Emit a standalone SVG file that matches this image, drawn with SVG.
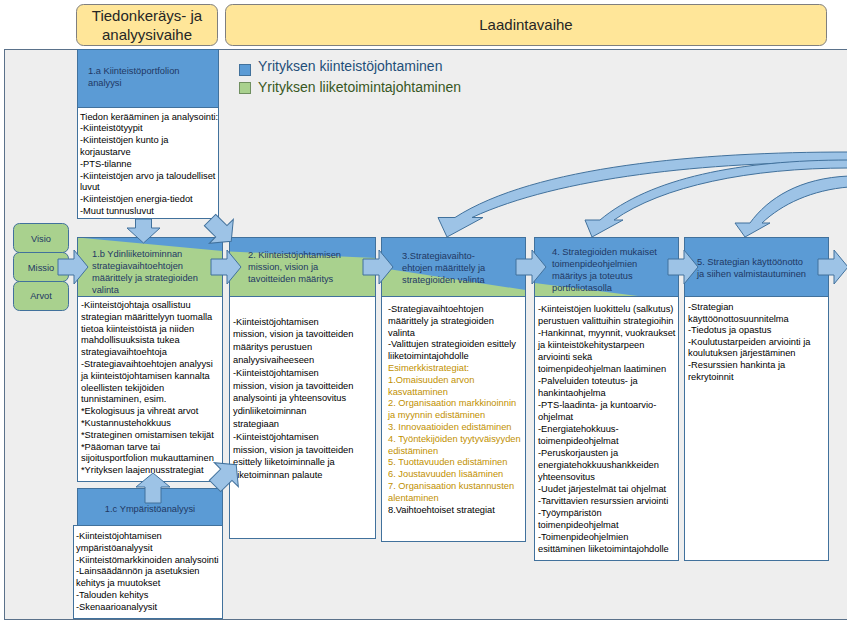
<svg xmlns="http://www.w3.org/2000/svg" xmlns:xlink="http://www.w3.org/1999/xlink" width="847" height="625" viewBox="0 0 847 625">
<style>
text{font-family:"Liberation Sans",Arial,sans-serif}
.t{font-size:9.3px;fill:#000}
.h{font-size:9.3px;fill:#1f3864}
.gold{fill:#bf9000}
.blue{fill:#5b9bd5}
.green{fill:#a9d18e}
.ol{fill:none;stroke:#41719c;stroke-width:1}
.box{fill:#fff;stroke:#41719c;stroke-width:1}
.arr{fill:#9dc3e6;stroke:#41719c;stroke-width:1}
.phase{fill:#ffe699;stroke:#7f7f7f;stroke-width:1}
.pt{font-size:15px;fill:#262626}
.vm{fill:#a9d18e;stroke:#41719c;stroke-width:1}
</style>
<defs>
<path id="ra" d="M0,-8 H16 V-17 L30,0 L16,17 V8 H0 Z"/>
</defs>
<rect x="4.5" y="49.5" width="850" height="570" fill="#eeeeee" stroke="#5a718a" stroke-width="1"/>
<g id="phase-collect">
<rect class="phase" x="76.5" y="4.5" width="141" height="41" rx="7"/>
<text class="pt" x="147" y="20.5" text-anchor="middle">Tiedonkeräys- ja</text>
<text class="pt" x="147" y="39.5" text-anchor="middle">analyysivaihe</text>
</g>
<g id="phase-draft">
<rect class="phase" x="225.5" y="4.5" width="601" height="41" rx="7"/>
<text class="pt" x="526" y="30" text-anchor="middle">Laadintavaihe</text>
</g>
<g id="legend">
<rect x="239.5" y="64.5" width="11" height="11" fill="#5b9bd5" stroke="#41719c"/>
<text x="258" y="71" font-size="14" fill="#1f4e79">Yrityksen kiinteistöjohtaminen</text>
<rect x="239.5" y="82.5" width="11" height="11" fill="#a9d18e" stroke="#6f8f5f"/>
<text x="258" y="92" font-size="14" fill="#385723">Yrityksen liiketoimintajohtaminen</text>
</g>
<g id="node-visio"><rect class="vm" x="13.5" y="223.5" width="55" height="29" rx="6"/><text class="h" x="41" y="241.5" text-anchor="middle">Visio</text></g>
<g id="node-missio"><rect class="vm" x="13.5" y="252.5" width="55" height="29" rx="6"/><text class="h" x="41" y="270.5" text-anchor="middle">Missio</text></g>
<g id="node-arvot"><rect class="vm" x="13.5" y="281.5" width="55" height="29" rx="6"/><text class="h" x="41" y="299" text-anchor="middle">Arvot</text></g>
<g id="node-1a">
<rect class="blue" x="77.5" y="49.5" width="141" height="58" stroke="#41719c"/>
<text class="h" x="88" y="74">1.a Kiinteistöportfolion<tspan x="88" dy="11.8">analyysi</tspan></text>
<rect class="box" x="77.5" y="107.5" width="141" height="111"/>
<text class="t" x="80" y="119.5">Tiedon kerääminen ja analysointi:<tspan x="80" dy="11.8">-Kiinteistötyypit</tspan><tspan x="80" dy="11.8">-Kiinteistöjen kunto ja</tspan><tspan x="80" dy="11.8">korjaustarve</tspan><tspan x="80" dy="11.8">-PTS-tilanne</tspan><tspan x="80" dy="11.8">-Kiinteistöjen arvo ja taloudelliset</tspan><tspan x="80" dy="11.8">luvut</tspan><tspan x="80" dy="11.8">-Kiinteistöjen energia-tiedot</tspan><tspan x="80" dy="11.8">-Muut tunnusluvut</tspan></text>
</g>
<g id="node-1b">
<rect class="green" x="77.5" y="237.5" width="145" height="59"/>
<polygon class="blue" points="77.5,237.5 222.5,237.5 222.5,251"/>
<rect class="ol" x="77.5" y="237.5" width="145" height="59"/>
<text class="h" x="92" y="257">1.b Ydinliiketoiminnan<tspan x="92" dy="12">strategiavaihtoehtojen</tspan><tspan x="92" dy="12">määrittely ja strategioiden</tspan><tspan x="92" dy="12">valinta</tspan></text>
<rect class="box" x="77.5" y="296.5" width="145" height="185"/>
<text class="t" x="81" y="308">-Kiinteistöjohtaja osallistuu<tspan x="81" dy="11.8">strategian määrittelyyn tuomalla</tspan><tspan x="81" dy="11.8">tietoa kiinteistöistä ja niiden</tspan><tspan x="81" dy="11.8">mahdollisuuksista tukea</tspan><tspan x="81" dy="11.8">strategiavaihtoehtoja</tspan><tspan x="81" dy="11.8">-Strategiavaihtoehtojen analyysi</tspan><tspan x="81" dy="11.8">ja kiinteistöjohtamisen kannalta</tspan><tspan x="81" dy="11.8">oleellisten tekijöiden</tspan><tspan x="81" dy="11.8">tunnistaminen, esim.</tspan><tspan x="81" dy="11.8">*Ekologisuus ja vihreät arvot</tspan><tspan x="81" dy="11.8">*Kustannustehokkuus</tspan><tspan x="81" dy="11.8">*Strateginen omistamisen tekijät</tspan><tspan x="81" dy="11.8">*Pääoman tarve tai</tspan><tspan x="81" dy="11.8">sijoitusportfolion mukauttaminen</tspan><tspan x="81" dy="11.8">*Yrityksen laajennusstrategiat</tspan></text>
</g>
<g id="node-1c">
<rect class="blue" x="77.5" y="488.5" width="145" height="37" stroke="#41719c"/>
<text class="h" x="150" y="512" text-anchor="middle">1.c Ympäristöanalyysi</text>
<rect class="box" x="73.5" y="525.5" width="149" height="93"/>
<text class="t" x="76" y="539">-Kiinteistöjohtamisen<tspan x="76" dy="11.8">ympäristöanalyysit</tspan><tspan x="76" dy="11.8">-Kiinteistömarkkinoiden analysointi</tspan><tspan x="76" dy="11.8">-Lainsäädännön ja asetuksien</tspan><tspan x="76" dy="11.8">kehitys ja muutokset</tspan><tspan x="76" dy="11.8">-Talouden kehitys</tspan><tspan x="76" dy="11.8">-Skenaarioanalyysit</tspan></text>
</g>
<g id="node-2">
<rect class="blue" x="229.5" y="237.5" width="146" height="59"/>
<polygon class="green" points="229.5,251.5 375.5,258 375.5,296.5 229.5,296.5"/>
<rect class="ol" x="229.5" y="237.5" width="146" height="59"/>
<text class="h" x="248" y="258">2. Kiinteistöjohtamisen<tspan x="248" dy="12">mission, vision ja</tspan><tspan x="248" dy="12">tavoitteiden määritys</tspan></text>
<rect class="box" x="229.5" y="296.5" width="146" height="242"/>
<text class="t" x="233" y="324.5">-Kiinteistöjohtamisen<tspan x="233" dy="12.8">mission, vision ja tavoitteiden</tspan><tspan x="233" dy="12.8">määritys perustuen</tspan><tspan x="233" dy="12.8">analyysivaiheeseen</tspan><tspan x="233" dy="12.8">-Kiinteistöjohtamisen</tspan><tspan x="233" dy="12.8">mission, vision ja tavoitteiden</tspan><tspan x="233" dy="12.8">analysointi ja yhteensovitus</tspan><tspan x="233" dy="12.8">ydinliiketoiminnan</tspan><tspan x="233" dy="12.8">strategiaan</tspan><tspan x="233" dy="12.8">-Kiinteistöjohtamisen</tspan><tspan x="233" dy="12.8">mission, vision ja tavoitteiden</tspan><tspan x="233" dy="12.8">esittely liiketoiminnalle ja</tspan><tspan x="233" dy="12.8">liiketoiminnan palaute</tspan></text>
</g>
<g id="node-3">
<rect class="blue" x="381.5" y="237.5" width="144" height="59"/>
<polygon class="green" points="381.5,268 525.5,290 525.5,296.5 381.5,296.5"/>
<rect class="ol" x="381.5" y="237.5" width="144" height="59"/>
<text class="h" x="402" y="259">3.Strategiavaihto-<tspan x="402" dy="12">ehtojen määrittely ja</tspan><tspan x="402" dy="12">strategioiden valinta</tspan></text>
<rect class="box" x="381.5" y="296.5" width="144" height="245"/>
<text class="t" x="388" y="312">-Strategiavaihtoehtojen<tspan x="388" dy="11.8">määrittely ja strategioiden</tspan><tspan x="388" dy="11.8">valinta</tspan><tspan x="388" dy="11.8">-Valittujen strategioiden esittely</tspan><tspan x="388" dy="11.8">liiketoimintajohdolle</tspan><tspan class="gold" x="388" dy="11.8">Esimerkkistrategiat:</tspan><tspan class="gold" x="388" dy="11.8">1.Omaisuuden arvon</tspan><tspan class="gold" x="388" dy="11.8">kasvattaminen</tspan><tspan class="gold" x="388" dy="11.8">2. Organisaation markkinoinnin</tspan><tspan class="gold" x="388" dy="11.8">ja myynnin edistäminen</tspan><tspan class="gold" x="388" dy="11.8">3. Innovaatioiden edistäminen</tspan><tspan class="gold" x="388" dy="11.8">4. Työntekijöiden tyytyväisyyden</tspan><tspan class="gold" x="388" dy="11.8">edistäminen</tspan><tspan class="gold" x="388" dy="11.8">5. Tuottavuuden edistäminen</tspan><tspan class="gold" x="388" dy="11.8">6. Joustavuuden lisääminen</tspan><tspan class="gold" x="388" dy="11.8">7. Organisaation kustannusten</tspan><tspan class="gold" x="388" dy="11.8">alentaminen</tspan><tspan x="388" dy="11.8">8.Vaihtoehtoiset strategiat</tspan></text>
</g>
<g id="node-4">
<rect class="blue" x="534.5" y="237.5" width="144" height="59"/>
<polygon class="green" points="534.5,283 642,296.5 534.5,296.5"/>
<rect class="ol" x="534.5" y="237.5" width="144" height="59"/>
<text class="h" x="552" y="255">4. Strategioiden mukaiset<tspan x="552" dy="12">toimenpideohjelmien</tspan><tspan x="552" dy="12">määritys ja toteutus</tspan><tspan x="552" dy="12">portfoliotasolla</tspan></text>
<rect class="box" x="534.5" y="296.5" width="144" height="264"/>
<text class="t" x="538" y="312">-Kiinteistöjen luokittelu (salkutus)<tspan x="538" dy="12">perustuen valittuihin strategioihin</tspan><tspan x="538" dy="12">-Hankinnat, myynnit, vuokraukset</tspan><tspan x="538" dy="12">ja kiinteistökehitystarpeen</tspan><tspan x="538" dy="12">arviointi sekä</tspan><tspan x="538" dy="12">toimenpideohjelman laatiminen</tspan><tspan x="538" dy="12">-Palveluiden toteutus- ja</tspan><tspan x="538" dy="12">hankintaohjelma</tspan><tspan x="538" dy="12">-PTS-laadinta- ja kuntoarvio-</tspan><tspan x="538" dy="12">ohjelmat</tspan><tspan x="538" dy="12">-Energiatehokkuus-</tspan><tspan x="538" dy="12">toimenpideohjelmat</tspan><tspan x="538" dy="12">-Peruskorjausten ja</tspan><tspan x="538" dy="12">energiatehokkuushankkeiden</tspan><tspan x="538" dy="12">yhteensovitus</tspan><tspan x="538" dy="12">-Uudet järjestelmät tai ohjelmat</tspan><tspan x="538" dy="12">-Tarvittavien resurssien arviointi</tspan><tspan x="538" dy="12">-Työympäristön</tspan><tspan x="538" dy="12">toimenpideohjelmat</tspan><tspan x="538" dy="12">-Toimenpideohjelmien</tspan><tspan x="538" dy="12">esittäminen liiketoimintajohdolle</tspan></text>
</g>
<g id="node-5">
<rect class="blue" x="684.5" y="237.5" width="144" height="59" stroke="#41719c"/>
<text class="h" x="697" y="265">5. Strategian käyttöönotto<tspan x="697" dy="12">ja siihen valmistautuminen</tspan></text>
<rect class="box" x="684.5" y="296.5" width="144" height="264"/>
<text class="t" x="688" y="310">-Strategian<tspan x="688" dy="11.6">käyttöönottosuunnitelma</tspan><tspan x="688" dy="11.6">-Tiedotus ja opastus</tspan><tspan x="688" dy="11.6">-Koulutustarpeiden arviointi ja</tspan><tspan x="688" dy="11.6">koulutuksen järjestäminen</tspan><tspan x="688" dy="11.6">-Resurssien hankinta ja</tspan><tspan x="688" dy="11.6">rekrytoinnit</tspan></text>
</g>
<g id="connectors">
<use xlink:href="#ra" class="arr" transform="translate(58,267)"/>
<use xlink:href="#ra" class="arr" transform="translate(211,267)"/>
<use xlink:href="#ra" class="arr" transform="translate(363,267)"/>
<use xlink:href="#ra" class="arr" transform="translate(516,267)"/>
<use xlink:href="#ra" class="arr" transform="translate(668,267)"/>
<use xlink:href="#ra" class="arr" transform="translate(818,267)"/>
<path class="arr" d="M135.5,219 V228 H127 L143.5,243 L160,228 H151.5 V219 Z"/>
<use xlink:href="#ra" class="arr" transform="translate(153,503) rotate(-90)"/>
<use xlink:href="#ra" class="arr" transform="translate(210,220) rotate(45)"/>
<use xlink:href="#ra" class="arr" transform="translate(215,486) rotate(-45)"/>
<path class="arr" d="M849,152 C700,152 535,166 455,217.5 L438,217.5 L447,237 L483,217.5 L472,217.5 C560,177 705,162 849,162 Z"/>
<path class="arr" d="M849,160 C740,160 650,178 600,220 L585,220 L592,237 L623,220 L614,220 C662,186 750,168 849,168 Z"/>
<path class="arr" d="M849,176 C800,178 768,198 750,223 L735,223 L745,237 L770,223 L762,223 C782,204 812,190 849,187 Z"/>
</g>
</svg>
